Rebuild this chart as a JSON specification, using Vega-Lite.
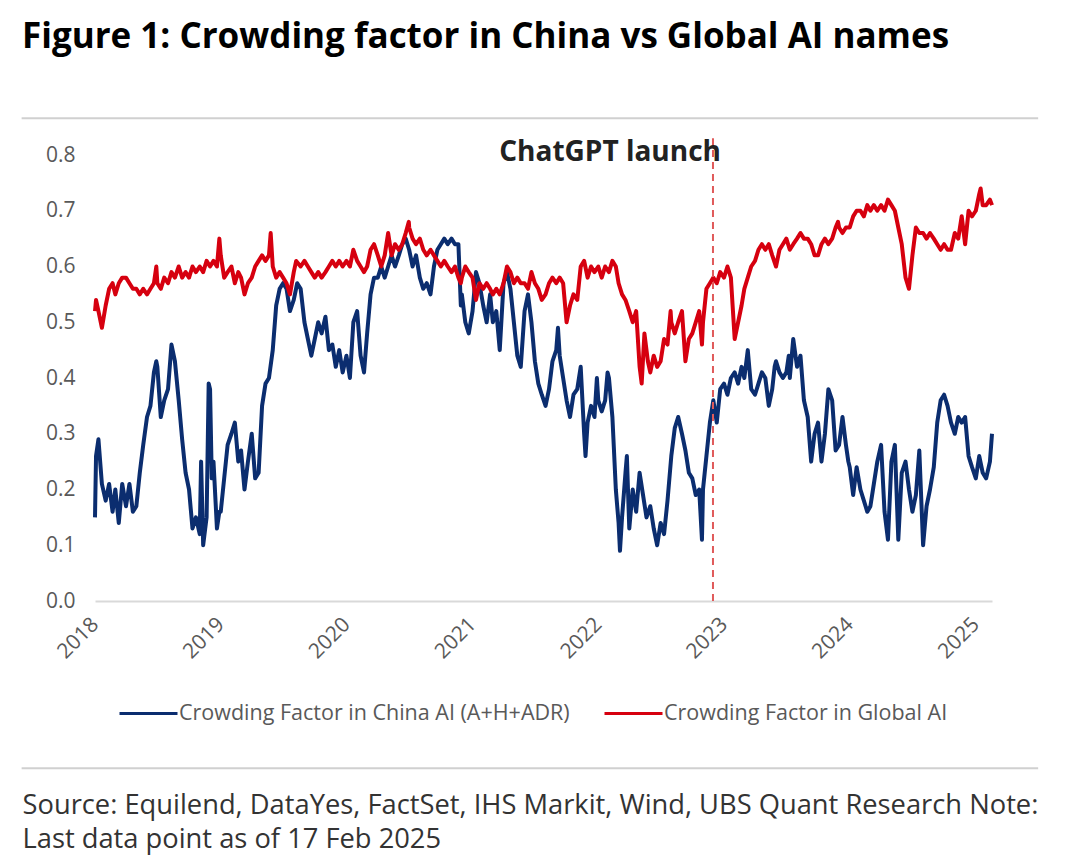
{
  "$schema": "https://vega.github.io/schema/vega-lite/v6.json",
  "width": 897,
  "height": 446,
  "autosize": {"type": "none"},
  "padding": {"left": 95, "top": 155, "right": 88, "bottom": 261},
  "background": "white",
  "title": {
    "text": "Figure 1: Crowding factor in China vs Global AI names",
    "anchor": "start",
    "frame": "group",
    "dx": -73,
    "offset": 34,
    "baseline": "alphabetic",
    "font": "Open Sans",
    "fontSize": 35,
    "fontWeight": "bold",
    "color": "#000000"
  },
  "config": {
    "view": {"stroke": null},
    "axis": {"labelFont": "Open Sans", "titleFont": "Open Sans"}
  },
  "layer": [
    {
      "data": {"values": [{}]},
      "mark": {"type": "rule", "color": "#d0d0d0", "strokeWidth": 2},
      "encoding": {
        "x": {"datum": {"year": 2017, "month": 6, "date": 2, "utc": true}, "type": "temporal"},
        "x2": {"datum": {"year": 2025, "month": 7, "date": 1, "utc": true}},
        "y": {"datum": 0.866, "type": "quantitative"}
      }
    },
    {
      "data": {"values": [{}]},
      "mark": {"type": "rule", "color": "#d0d0d0", "strokeWidth": 2},
      "encoding": {
        "x": {"datum": {"year": 2017, "month": 6, "date": 2, "utc": true}, "type": "temporal"},
        "x2": {"datum": {"year": 2025, "month": 7, "date": 1, "utc": true}},
        "y": {"datum": -0.3, "type": "quantitative"}
      }
    },
    {
      "data": {"values": [
        {"d":"2018-01-01","China":0.15,"Global":0.52},
        {"d":"2018-01-04","China":0.26,"Global":0.54},
        {"d":"2018-01-11","China":0.29,"Global":0.52},
        {"d":"2018-01-21","China":0.21,"Global":0.49},
        {"d":"2018-02-01","China":0.18,"Global":0.53},
        {"d":"2018-02-11","China":0.21,"Global":0.56},
        {"d":"2018-02-21","China":0.16,"Global":0.57},
        {"d":"2018-03-01","China":0.20,"Global":0.55},
        {"d":"2018-03-11","China":0.14,"Global":0.57},
        {"d":"2018-03-21","China":0.21,"Global":0.58},
        {"d":"2018-04-01","China":0.17,"Global":0.58},
        {"d":"2018-04-11","China":0.21,"Global":0.57},
        {"d":"2018-04-21","China":0.16,"Global":0.56},
        {"d":"2018-05-01","China":0.17,"Global":0.56},
        {"d":"2018-05-11","China":0.23,"Global":0.55},
        {"d":"2018-05-21","China":0.28,"Global":0.56},
        {"d":"2018-06-01","China":0.33,"Global":0.55},
        {"d":"2018-06-11","China":0.35,"Global":0.56},
        {"d":"2018-06-21","China":0.41,"Global":0.57},
        {"d":"2018-06-28","China":0.43,"Global":0.60},
        {"d":"2018-07-01","China":0.42,"Global":0.57},
        {"d":"2018-07-11","China":0.33,"Global":0.56},
        {"d":"2018-07-21","China":0.36,"Global":0.58},
        {"d":"2018-08-01","China":0.38,"Global":0.57},
        {"d":"2018-08-11","China":0.46,"Global":0.59},
        {"d":"2018-08-21","China":0.43,"Global":0.58},
        {"d":"2018-09-01","China":0.36,"Global":0.60},
        {"d":"2018-09-11","China":0.29,"Global":0.58},
        {"d":"2018-09-21","China":0.23,"Global":0.59},
        {"d":"2018-10-01","China":0.20,"Global":0.58},
        {"d":"2018-10-11","China":0.13,"Global":0.60},
        {"d":"2018-10-21","China":0.15,"Global":0.59},
        {"d":"2018-11-01","China":0.12,"Global":0.60},
        {"d":"2018-11-05","China":0.25},
        {"d":"2018-11-11","China":0.10,"Global":0.59},
        {"d":"2018-11-21","China":0.15,"Global":0.61},
        {"d":"2018-11-27","China":0.39},
        {"d":"2018-12-01","China":0.38,"Global":0.60},
        {"d":"2018-12-06","China":0.22},
        {"d":"2018-12-11","China":0.25,"Global":0.61},
        {"d":"2018-12-21","China":0.13,"Global":0.60},
        {"d":"2018-12-28","China":0.16,"Global":0.65},
        {"d":"2019-01-01","China":0.16,"Global":0.62},
        {"d":"2019-01-11","China":0.22,"Global":0.58},
        {"d":"2019-01-21","China":0.28,"Global":0.59},
        {"d":"2019-02-01","China":0.30,"Global":0.60},
        {"d":"2019-02-11","China":0.32,"Global":0.57},
        {"d":"2019-02-21","China":0.25,"Global":0.59},
        {"d":"2019-03-01","China":0.27,"Global":0.58},
        {"d":"2019-03-11","China":0.20,"Global":0.55},
        {"d":"2019-03-21","China":0.25,"Global":0.57},
        {"d":"2019-04-01","China":0.30,"Global":0.58},
        {"d":"2019-04-11","China":0.22,"Global":0.60},
        {"d":"2019-04-21","China":0.23,"Global":0.61},
        {"d":"2019-05-01","China":0.35,"Global":0.62},
        {"d":"2019-05-11","China":0.39,"Global":0.61},
        {"d":"2019-05-21","China":0.40,"Global":0.62},
        {"d":"2019-05-26","Global":0.66},
        {"d":"2019-06-01","China":0.45,"Global":0.60},
        {"d":"2019-06-11","China":0.53,"Global":0.58},
        {"d":"2019-06-21","China":0.56,"Global":0.59},
        {"d":"2019-07-01","China":0.57,"Global":0.58},
        {"d":"2019-07-11","China":0.56,"Global":0.57},
        {"d":"2019-07-21","China":0.52,"Global":0.55},
        {"d":"2019-08-01","China":0.54,"Global":0.59},
        {"d":"2019-08-08","Global":0.61},
        {"d":"2019-08-11","China":0.57},
        {"d":"2019-08-21","China":0.56,"Global":0.60},
        {"d":"2019-09-01","China":0.50,"Global":0.61},
        {"d":"2019-09-11","China":0.47,"Global":0.60},
        {"d":"2019-09-21","China":0.44,"Global":0.59},
        {"d":"2019-10-01","China":0.47,"Global":0.58},
        {"d":"2019-10-11","China":0.50,"Global":0.59},
        {"d":"2019-10-21","China":0.48,"Global":0.58},
        {"d":"2019-11-01","China":0.51,"Global":0.59},
        {"d":"2019-11-11","China":0.45,"Global":0.60},
        {"d":"2019-11-21","China":0.46,"Global":0.61},
        {"d":"2019-12-01","China":0.42,"Global":0.60},
        {"d":"2019-12-11","China":0.45,"Global":0.61},
        {"d":"2019-12-21","China":0.41,"Global":0.60},
        {"d":"2020-01-01","China":0.44,"Global":0.61},
        {"d":"2020-01-11","China":0.40,"Global":0.60},
        {"d":"2020-01-21","China":0.50,"Global":0.63},
        {"d":"2020-02-01","China":0.52,"Global":0.61},
        {"d":"2020-02-11","China":0.44,"Global":0.60},
        {"d":"2020-02-21","China":0.41,"Global":0.59},
        {"d":"2020-03-01","China":0.48,"Global":0.60},
        {"d":"2020-03-11","China":0.55,"Global":0.63},
        {"d":"2020-03-21","China":0.58,"Global":0.64},
        {"d":"2020-04-01","China":0.58,"Global":0.62},
        {"d":"2020-04-11","China":0.60,"Global":0.60},
        {"d":"2020-04-21","China":0.58,"Global":0.62},
        {"d":"2020-05-01","China":0.60,"Global":0.66},
        {"d":"2020-05-11","China":0.62,"Global":0.62},
        {"d":"2020-05-21","China":0.60,"Global":0.64},
        {"d":"2020-06-01","China":0.62,"Global":0.63},
        {"d":"2020-06-11","China":0.64,"Global":0.64},
        {"d":"2020-06-21","China":0.65,"Global":0.66},
        {"d":"2020-06-30","Global":0.68},
        {"d":"2020-07-01","China":0.63,"Global":0.67},
        {"d":"2020-07-11","China":0.60,"Global":0.65},
        {"d":"2020-07-21","China":0.62,"Global":0.64},
        {"d":"2020-08-01","China":0.58,"Global":0.65},
        {"d":"2020-08-11","China":0.56,"Global":0.63},
        {"d":"2020-08-21","China":0.57,"Global":0.62},
        {"d":"2020-09-01","China":0.55,"Global":0.63},
        {"d":"2020-09-11","China":0.60,"Global":0.62},
        {"d":"2020-09-21","China":0.63,"Global":0.61},
        {"d":"2020-10-01","China":0.64,"Global":0.60},
        {"d":"2020-10-11","China":0.65,"Global":0.61},
        {"d":"2020-10-21","China":0.64,"Global":0.60},
        {"d":"2020-11-01","China":0.65,"Global":0.59},
        {"d":"2020-11-11","China":0.64,"Global":0.60},
        {"d":"2020-11-21","China":0.64,"Global":0.58},
        {"d":"2020-11-28","China":0.53,"Global":0.57},
        {"d":"2020-12-01","China":0.55,"Global":0.58},
        {"d":"2020-12-11","China":0.50,"Global":0.60},
        {"d":"2020-12-21","China":0.48,"Global":0.59},
        {"d":"2021-01-01","China":0.52,"Global":0.58},
        {"d":"2021-01-11","China":0.59,"Global":0.54},
        {"d":"2021-01-21","China":0.57,"Global":0.57},
        {"d":"2021-02-01","China":0.53,"Global":0.56},
        {"d":"2021-02-11","China":0.50,"Global":0.57},
        {"d":"2021-02-21","China":0.55,"Global":0.56},
        {"d":"2021-03-01","China":0.50,"Global":0.55},
        {"d":"2021-03-11","China":0.52,"Global":0.56},
        {"d":"2021-03-21","China":0.45,"Global":0.55},
        {"d":"2021-04-01","China":0.57,"Global":0.57},
        {"d":"2021-04-11","China":0.59,"Global":0.60},
        {"d":"2021-04-21","China":0.56,"Global":0.59},
        {"d":"2021-05-01","China":0.50,"Global":0.57},
        {"d":"2021-05-11","China":0.44,"Global":0.58},
        {"d":"2021-05-21","China":0.42,"Global":0.57},
        {"d":"2021-06-01","China":0.52,"Global":0.57},
        {"d":"2021-06-11","China":0.55,"Global":0.56},
        {"d":"2021-06-21","China":0.50,"Global":0.59},
        {"d":"2021-07-01","China":0.43,"Global":0.57},
        {"d":"2021-07-11","China":0.39,"Global":0.56},
        {"d":"2021-07-21","China":0.37,"Global":0.54},
        {"d":"2021-08-01","China":0.35,"Global":0.55},
        {"d":"2021-08-11","China":0.38,"Global":0.57},
        {"d":"2021-08-21","China":0.43,"Global":0.58},
        {"d":"2021-09-01","China":0.45,"Global":0.57},
        {"d":"2021-09-06","China":0.49},
        {"d":"2021-09-11","China":0.44,"Global":0.58},
        {"d":"2021-09-21","China":0.40,"Global":0.57},
        {"d":"2021-10-01","China":0.36,"Global":0.50},
        {"d":"2021-10-11","China":0.33,"Global":0.53},
        {"d":"2021-10-21","China":0.37,"Global":0.55},
        {"d":"2021-11-01","China":0.38,"Global":0.54},
        {"d":"2021-11-11","China":0.42,"Global":0.60},
        {"d":"2021-11-21","China":0.30,"Global":0.61},
        {"d":"2021-11-25","China":0.26},
        {"d":"2021-12-01","China":0.32,"Global":0.58},
        {"d":"2021-12-11","China":0.35,"Global":0.60},
        {"d":"2021-12-21","China":0.33,"Global":0.59},
        {"d":"2021-12-28","China":0.40},
        {"d":"2022-01-01","China":0.36,"Global":0.60},
        {"d":"2022-01-11","China":0.34,"Global":0.58},
        {"d":"2022-01-21","China":0.36,"Global":0.60},
        {"d":"2022-01-28","China":0.41},
        {"d":"2022-02-01","China":0.40,"Global":0.59},
        {"d":"2022-02-11","China":0.33,"Global":0.61},
        {"d":"2022-02-21","China":0.20,"Global":0.60},
        {"d":"2022-03-01","China":0.14,"Global":0.57},
        {"d":"2022-03-05","China":0.09},
        {"d":"2022-03-11","China":0.15,"Global":0.55},
        {"d":"2022-03-21","China":0.23,"Global":0.54},
        {"d":"2022-03-25","China":0.26},
        {"d":"2022-04-01","China":0.13,"Global":0.52},
        {"d":"2022-04-11","China":0.20,"Global":0.50},
        {"d":"2022-04-21","China":0.16,"Global":0.52},
        {"d":"2022-04-28","Global":0.45},
        {"d":"2022-05-01","China":0.23,"Global":0.42},
        {"d":"2022-05-07","Global":0.39},
        {"d":"2022-05-11","China":0.19},
        {"d":"2022-05-15","Global":0.48},
        {"d":"2022-05-21","China":0.15},
        {"d":"2022-05-25","Global":0.43},
        {"d":"2022-06-01","China":0.17,"Global":0.41},
        {"d":"2022-06-11","China":0.13,"Global":0.44},
        {"d":"2022-06-21","China":0.10,"Global":0.42},
        {"d":"2022-07-01","China":0.14,"Global":0.43},
        {"d":"2022-07-11","China":0.12,"Global":0.47},
        {"d":"2022-07-21","China":0.18,"Global":0.46},
        {"d":"2022-07-30","Global":0.52},
        {"d":"2022-08-01","China":0.26,"Global":0.50},
        {"d":"2022-08-11","China":0.31,"Global":0.48},
        {"d":"2022-08-21","China":0.33,"Global":0.50},
        {"d":"2022-09-01","China":0.30,"Global":0.52},
        {"d":"2022-09-11","China":0.27,"Global":0.43},
        {"d":"2022-09-21","China":0.23,"Global":0.47},
        {"d":"2022-10-01","China":0.22,"Global":0.48},
        {"d":"2022-10-11","China":0.19,"Global":0.50},
        {"d":"2022-10-21","China":0.20,"Global":0.52},
        {"d":"2022-10-29","China":0.11,"Global":0.46},
        {"d":"2022-11-01","China":0.20,"Global":0.50},
        {"d":"2022-11-11","China":0.26,"Global":0.56},
        {"d":"2022-11-21","China":0.32,"Global":0.57},
        {"d":"2022-12-01","China":0.36,"Global":0.58},
        {"d":"2022-12-11","China":0.32,"Global":0.57},
        {"d":"2022-12-21","China":0.38,"Global":0.59},
        {"d":"2023-01-01","China":0.39,"Global":0.58},
        {"d":"2023-01-11","China":0.37,"Global":0.60},
        {"d":"2023-01-21","China":0.40,"Global":0.58},
        {"d":"2023-01-26","Global":0.53},
        {"d":"2023-02-01","China":0.41,"Global":0.47},
        {"d":"2023-02-11","China":0.39,"Global":0.50},
        {"d":"2023-02-21","China":0.42,"Global":0.53},
        {"d":"2023-03-01","China":0.40,"Global":0.56},
        {"d":"2023-03-11","China":0.45,"Global":0.58},
        {"d":"2023-03-21","China":0.38,"Global":0.60},
        {"d":"2023-04-01","China":0.37,"Global":0.61},
        {"d":"2023-04-11","China":0.39,"Global":0.63},
        {"d":"2023-04-21","China":0.41,"Global":0.64},
        {"d":"2023-05-01","China":0.40,"Global":0.63},
        {"d":"2023-05-11","China":0.35,"Global":0.64},
        {"d":"2023-05-21","China":0.38,"Global":0.62},
        {"d":"2023-05-28","China":0.42},
        {"d":"2023-06-01","China":0.43,"Global":0.60},
        {"d":"2023-06-11","China":0.41,"Global":0.63},
        {"d":"2023-06-21","China":0.40,"Global":0.64},
        {"d":"2023-07-01","China":0.41,"Global":0.65},
        {"d":"2023-07-08","China":0.44},
        {"d":"2023-07-11","China":0.40,"Global":0.63},
        {"d":"2023-07-21","China":0.47,"Global":0.64},
        {"d":"2023-08-01","China":0.42,"Global":0.65},
        {"d":"2023-08-11","China":0.44,"Global":0.66},
        {"d":"2023-08-21","China":0.36,"Global":0.65},
        {"d":"2023-09-01","China":0.33,"Global":0.65},
        {"d":"2023-09-11","China":0.25,"Global":0.64},
        {"d":"2023-09-21","China":0.30,"Global":0.62},
        {"d":"2023-10-01","China":0.32,"Global":0.62},
        {"d":"2023-10-11","China":0.25,"Global":0.64},
        {"d":"2023-10-21","China":0.30,"Global":0.65},
        {"d":"2023-10-31","China":0.38,"Global":0.64},
        {"d":"2023-11-11","China":0.36,"Global":0.65},
        {"d":"2023-11-21","China":0.27,"Global":0.67},
        {"d":"2023-11-28","Global":0.68},
        {"d":"2023-12-01","China":0.28,"Global":0.67},
        {"d":"2023-12-11","China":0.33,"Global":0.66},
        {"d":"2023-12-21","China":0.28,"Global":0.67},
        {"d":"2023-12-28","China":0.25},
        {"d":"2024-01-01","China":0.24,"Global":0.67},
        {"d":"2024-01-11","China":0.19,"Global":0.69},
        {"d":"2024-01-21","China":0.24,"Global":0.70},
        {"d":"2024-02-01","China":0.20,"Global":0.70},
        {"d":"2024-02-11","China":0.18,"Global":0.69},
        {"d":"2024-02-21","China":0.16,"Global":0.71},
        {"d":"2024-03-01","China":0.17,"Global":0.70},
        {"d":"2024-03-11","China":0.21,"Global":0.71},
        {"d":"2024-03-21","China":0.25,"Global":0.70},
        {"d":"2024-04-01","China":0.28,"Global":0.71},
        {"d":"2024-04-06","China":0.22},
        {"d":"2024-04-11","China":0.16,"Global":0.70},
        {"d":"2024-04-21","China":0.11,"Global":0.72},
        {"d":"2024-05-01","China":0.25,"Global":0.71},
        {"d":"2024-05-11","China":0.28,"Global":0.70},
        {"d":"2024-05-21","China":0.11,"Global":0.67},
        {"d":"2024-05-31","China":0.23,"Global":0.64},
        {"d":"2024-06-11","China":0.25,"Global":0.58},
        {"d":"2024-06-21","China":0.20,"Global":0.56},
        {"d":"2024-07-01","China":0.16,"Global":0.62},
        {"d":"2024-07-11","China":0.19,"Global":0.67},
        {"d":"2024-07-21","China":0.27,"Global":0.66},
        {"d":"2024-08-01","China":0.10,"Global":0.66},
        {"d":"2024-08-11","China":0.17,"Global":0.65},
        {"d":"2024-08-21","China":0.20,"Global":0.66},
        {"d":"2024-09-01","China":0.24,"Global":0.65},
        {"d":"2024-09-11","China":0.32,"Global":0.64},
        {"d":"2024-09-21","China":0.36,"Global":0.63},
        {"d":"2024-10-01","China":0.37,"Global":0.64},
        {"d":"2024-10-11","China":0.35,"Global":0.63},
        {"d":"2024-10-21","China":0.32,"Global":0.63},
        {"d":"2024-11-01","China":0.30,"Global":0.66},
        {"d":"2024-11-11","China":0.33,"Global":0.65},
        {"d":"2024-11-21","China":0.32,"Global":0.69},
        {"d":"2024-12-01","China":0.33,"Global":0.64},
        {"d":"2024-12-11","China":0.26,"Global":0.70},
        {"d":"2024-12-21","China":0.24,"Global":0.69},
        {"d":"2025-01-01","China":0.22,"Global":0.70},
        {"d":"2025-01-11","China":0.26,"Global":0.73},
        {"d":"2025-01-15","Global":0.74},
        {"d":"2025-01-21","China":0.23,"Global":0.71},
        {"d":"2025-01-31","China":0.22,"Global":0.71},
        {"d":"2025-02-11","China":0.25,"Global":0.72},
        {"d":"2025-02-17","China":0.30,"Global":0.71}
      ]},
      "transform": [
        {"fold": ["China", "Global"], "as": ["series", "value"]},
        {"filter": "isValid(datum.value)"}
      ],
      "mark": {"type": "line", "strokeWidth": 4, "strokeJoin": "round"},
      "encoding": {
        "x": {
          "field": "d",
          "type": "temporal",
          "scale": {
            "type": "utc",
            "domain": [
              {"year": 2018, "month": 1, "date": 1, "utc": true},
              {"year": 2025, "month": 2, "date": 17, "utc": true}
            ],
            "nice": false
          },
          "axis": {
            "title": ["Source: Equilend, DataYes, FactSet, IHS Markit, Wind, UBS Quant Research Note:", "Last data point as of 17 Feb 2025"],
            "titleAnchor": "start",
            "titleAlign": "left",
            "titleBaseline": "alphabetic",
            "titleX": -73,
            "titleY": 212,
            "titleFont": "Open Sans",
            "titleFontSize": 27.3,
            "titleFontWeight": "normal",
            "titleColor": "#333333",
            "titleLineHeight": 34,
            "format": "%Y",
            "tickCount": {"interval": "year", "step": 1},
            "labelAngle": -45,
            "labelAlign": "right",
            "labelBaseline": "middle",
            "labelPadding": 20,
            "labelFontSize": 21,
            "labelColor": "#595959",
            "ticks": false,
            "grid": false,
            "domainColor": "#d9d9d9",
            "domainWidth": 2
          }
        },
        "y": {
          "field": "value",
          "type": "quantitative",
          "scale": {"domain": [0, 0.8], "nice": false, "zero": true},
          "axis": {
            "title": null,
            "values": [0, 0.1, 0.2, 0.3, 0.4, 0.5, 0.6, 0.7, 0.8],
            "format": ".1f",
            "domain": false,
            "ticks": false,
            "grid": false,
            "labelPadding": 20,
            "labelFontSize": 21,
            "labelColor": "#595959"
          }
        },
        "color": {
          "field": "series",
          "type": "nominal",
          "scale": {"domain": ["China", "Global"], "range": ["#0b2d6f", "#d6000f"]},
          "legend": {
            "orient": "none",
            "legendX": 23,
            "legendY": 528,
            "direction": "horizontal",
            "title": null,
            "symbolType": "stroke",
            "symbolSize": 3364,
            "symbolStrokeWidth": 3,
            "labelFont": "Open Sans",
            "labelFontSize": 21.5,
            "labelColor": "#595959",
            "labelLimit": 600,
            "labelOffset": 0,
            "columnPadding": 28,
            "labelExpr": "datum.value == 'China' ? 'Crowding Factor in China AI (A+H+ADR)' : 'Crowding Factor in Global AI'"
          }
        }
      }
    },
    {
      "data": {"values": [{}]},
      "mark": {"type": "rule", "color": "#e05a5a", "strokeWidth": 2, "strokeDash": [7, 5]},
      "encoding": {
        "x": {"datum": {"year": 2022, "month": 11, "date": 30, "utc": true}, "type": "temporal"},
        "y": {"datum": 0, "type": "quantitative"},
        "y2": {"datum": 0.83}
      }
    },
    {
      "data": {"values": [{}]},
      "mark": {"type": "text", "text": "ChatGPT launch", "align": "right", "baseline": "alphabetic", "dx": 8, "font": "Open Sans", "fontSize": 28, "fontWeight": "bold", "color": "#222222"},
      "encoding": {
        "x": {"datum": {"year": 2022, "month": 11, "date": 30, "utc": true}, "type": "temporal"},
        "y": {"datum": 0.79, "type": "quantitative"}
      }
    }
  ]
}
